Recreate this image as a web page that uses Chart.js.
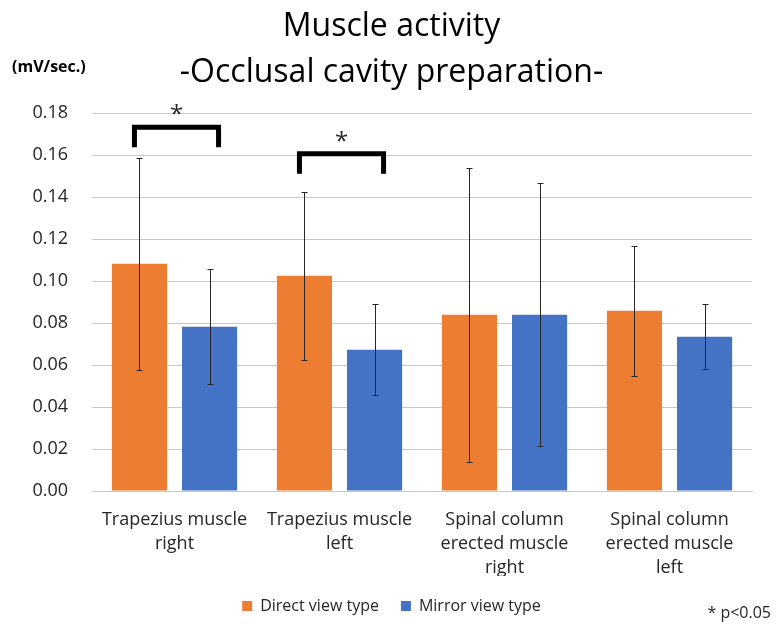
<!DOCTYPE html>
<html>
<head>
<meta charset="utf-8">
<script src="https://cdn.jsdelivr.net/npm/chart.js@4.4.1/dist/chart.umd.min.js"></script>
<style>
  html, body { margin: 0; padding: 0; background: #ffffff; }
  #wrap { width: 782px; height: 624px; position: relative; }
</style>
</head>
<body>
<div id="wrap"><canvas id="chart" width="782" height="624"></canvas></div>
<script>
// Muscle groups on the x axis (multi-line labels)
const categories = [
  ["Trapezius muscle", "right"],
  ["Trapezius muscle", "left"],
  ["Spinal column", "erected muscle", "right"],
  ["Spinal column", "erected muscle", "left"]
];

// Mean activity (mV/sec.) and standard deviation per group
const directMeans  = [0.1083, 0.1026, 0.0840, 0.0859];
const directSD     = [0.0505, 0.0400, 0.0700, 0.0310];
const mirrorMeans  = [0.0783, 0.0673, 0.0840, 0.0735];
const mirrorSD     = [0.0274, 0.0218, 0.0626, 0.0155];

// Y axis range
const yMin = 0;
const yMax = 0.18;
const yStep = 0.02;

// Significant pairs (category index) and the bracket level in axis units
const sigCategories = [0, 1];
const sigLevels     = [0.1733, 0.1607];

const ORANGE = '#ED7D31';
const BLUE = '#4472C4';
const FONT = "'Open Sans', 'Liberation Sans', sans-serif";

// Draws the SD whiskers on each bar
const errorBars = {
  id: 'errorBars',
  afterDatasetsDraw(chart) {
    const ctx = chart.ctx;
    const y = chart.scales.y;
    const sds = [directSD, mirrorSD];
    ctx.save();
    ctx.strokeStyle = '#262626';
    ctx.lineWidth = 1;
    chart.data.datasets.forEach((ds, di) => {
      const meta = chart.getDatasetMeta(di);
      meta.data.forEach((bar, i) => {
        const v = ds.data[i];
        const sd = sds[di][i];
        const x = Math.round(bar.x) + 0.5;
        const top = Math.round(y.getPixelForValue(v + sd)) + 0.5;
        const bot = Math.round(y.getPixelForValue(v - sd)) + 0.5;
        ctx.beginPath();
        ctx.moveTo(x, top); ctx.lineTo(x, bot);
        ctx.moveTo(x - 3, top); ctx.lineTo(x + 3, top);
        ctx.moveTo(x - 3, bot); ctx.lineTo(x + 3, bot);
        ctx.stroke();
      });
    });
    ctx.restore();
  }
};

// Significance brackets with asterisks, unit label and footnote
const annotations = {
  id: 'annotations',
  afterDraw(chart) {
    const ctx = chart.ctx;
    const y = chart.scales.y;
    const m0 = chart.getDatasetMeta(0);
    const m1 = chart.getDatasetMeta(1);
    ctx.save();
    sigCategories.forEach((ci, k) => {
      const x1 = m0.data[ci].x - 5;
      const x2 = m1.data[ci].x + 9;
      const yt = y.getPixelForValue(sigLevels[k]);
      const yb = yt + 20;
      ctx.strokeStyle = '#000000';
      ctx.lineWidth = 5;
      ctx.lineJoin = 'miter';
      ctx.beginPath();
      ctx.moveTo(x1, yb); ctx.lineTo(x1, yt); ctx.lineTo(x2, yt); ctx.lineTo(x2, yb);
      ctx.stroke();
      ctx.fillStyle = '#262626';
      ctx.font = '24px ' + FONT;
      ctx.textAlign = 'center';
      ctx.textBaseline = 'middle';
      ctx.fillText('*', (x1 + x2) / 2, yt - 12);
    });
    ctx.fillStyle = '#000000';
    ctx.font = 'bold 16px ' + FONT;
    ctx.textAlign = 'left';
    ctx.textBaseline = 'middle';
    ctx.fillText('(mV/sec.)', 12, 67);
    ctx.font = '16px ' + FONT;
    ctx.textAlign = 'right';
    ctx.fillStyle = '#262626';
    ctx.fillText('* p<0.05', 771, 613);
    ctx.restore();
  }
};

new Chart(document.getElementById('chart'), {
  type: 'bar',
  data: {
    labels: categories,
    datasets: [
      { label: 'Direct view type', data: directMeans, backgroundColor: ORANGE, borderWidth: 0 },
      { label: 'Mirror view type', data: mirrorMeans, backgroundColor: BLUE, borderWidth: 0 }
    ]
  },
  options: {
    responsive: false,
    animation: false,
    layout: { padding: { left: 31, right: 30, top: 0, bottom: 0 } },
    datasets: { bar: { categoryPercentage: 0.85, barPercentage: 0.786 } },
    plugins: {
      title: {
        display: true,
        text: ['Muscle activity', '-Occlusal cavity preparation-'],
        color: '#000000',
        font: { family: FONT, size: 32, weight: 'normal', lineHeight: 1.44 },
        padding: { top: 4, bottom: 17 }
      },
      legend: {
        position: 'bottom',
        labels: {
          color: '#262626',
          font: { family: FONT, size: 16 },
          boxWidth: 10,
          boxHeight: 10,
          padding: 22
        }
      },
      tooltip: { enabled: false }
    },
    scales: {
      x: {
        grid: { display: false, drawTicks: false },
        border: { display: true, color: '#c8c8c8' },
        ticks: { color: '#262626', font: { family: FONT, size: 18, lineHeight: 1.33 }, padding: 17, maxRotation: 0, autoSkip: false },
        afterFit: (scale) => { scale.height = 85; }
      },
      y: {
        min: yMin,
        max: yMax,
        grid: { color: '#c8c8c8', drawTicks: false },
        border: { display: false },
        ticks: {
          stepSize: yStep,
          color: '#262626',
          font: { family: FONT, size: 18 },
          padding: 24,
          callback: (v) => v.toFixed(2)
        },
        afterFit: (scale) => { scale.width = 61; }
      }
    }
  },
  plugins: [errorBars, annotations]
});
</script>
</body>
</html>
